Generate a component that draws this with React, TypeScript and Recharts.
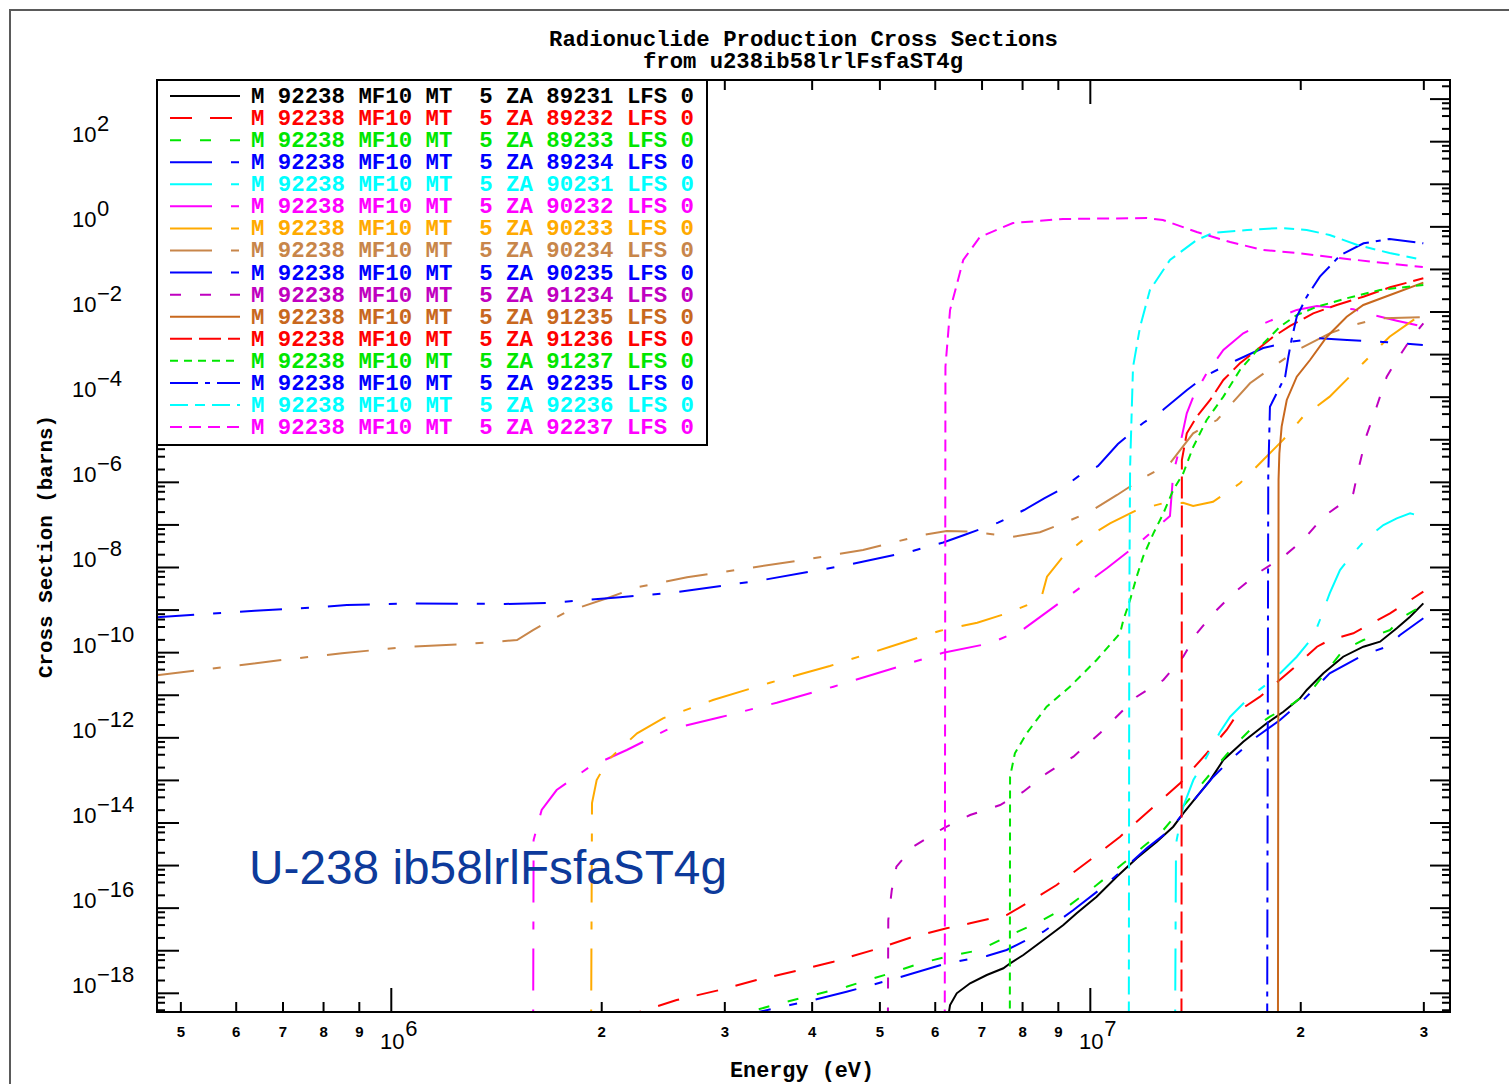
import React from 'react';
import { LineChart, Line, XAxis, YAxis, Legend, ReferenceArea } from 'recharts';

type Pt = [number, number];

// ---- Data: [energy (eV), cross section (barns)] ----
const ZA89231: Pt[] = [[6.2e6,1e-19],[6.3e6,5.3e-19],[6.44e6,1e-18],[6.73e6,1.72e-18],[7.11e6,2.69e-18],[7.51e6,3.87e-18],[7.68e6,5.07e-18],[8.02e6,7.94e-18],[8.57e6,1.79e-17],[9.15e6,4.02e-17],[9.56e6,7.57e-17],[1.021e7,1.86e-16],[1.091e7,5.47e-16],[1.165e7,1.48e-15],[1.245e7,3.63e-15],[1.314e7,8.18e-15],[1.358e7,1.69e-14],[1.42e7,4.14e-14],[1.484e7,1.02e-13],[1.55e7,3.01e-13],[1.655e7,8.11e-13],[1.788e7,2.19e-12],[1.889e7,4.1e-12],[1.995e7,8.47e-12],[2.04e7,1.33e-11],[2.155e7,3.27e-11],[2.3e7,8.03e-11],[2.458e7,1.38e-10],[2.597e7,1.81e-10],[2.744e7,3.73e-10],[2.867e7,7.0e-10],[2.995e7,1.44e-9]];
const ZA89232: Pt[] = [[2.125e6,2.56e-19],[2.27e6,3.7e-19],[2.56e6,6.97e-19],[2.953e6,1.2e-18],[3.33e6,2.05e-18],[3.84e6,3.52e-18],[4.29e6,5.52e-18],[4.89e6,1.04e-17],[5.58e6,2.13e-17],[6.23e6,3.37e-17],[6.73e6,4.41e-17],[7.59e6,6.9e-17],[8.11e6,1.3e-16],[8.95e6,3.49e-16],[9.99e6,1.35e-15],[1.103e7,4.76e-15],[1.217e7,2.02e-14],[1.344e7,8.55e-14],[1.467e7,4.33e-13],[1.567e7,1.53e-12],[1.637e7,4.5e-12],[1.749e7,9.25e-12],[1.952e7,4.3e-11],[2.11e7,1.38e-10],[2.2e7,1.98e-10],[2.378e7,2.85e-10],[2.684e7,8.39e-10],[2.995e7,2.7e-9]];
const ZA89233: Pt[] = [[3.05e6,2.73e-19],[3.26e6,3.7e-19],[3.6e6,5.82e-19],[4.02e6,9.12e-19],[4.48e6,1.43e-18],[5.17e6,2.95e-18],[5.71e6,5.07e-18],[6.23e6,7.24e-18],[6.95e6,1.04e-17],[7.59e6,2.13e-17],[8.47e6,4.81e-17],[9.35e6,1.19e-16],[1.021e7,3.49e-16],[1.115e7,1.13e-15],[1.19e7,2.77e-15],[1.272e7,6.84e-15],[1.344e7,2.02e-14],[1.42e7,5.94e-14],[1.5e7,1.75e-13],[1.602e7,6.18e-13],[1.692e7,1.53e-12],[1.807e7,3.13e-12],[1.952e7,6.47e-12],[2.084e7,1.46e-11],[2.3e7,1.15e-10],[2.458e7,1.98e-10],[2.684e7,3.4e-10],[2.804e7,7.0e-10],[2.995e7,1.31e-9]];
const ZA89234: Pt[] = [[3.05e6,2.49e-19],[3.3e6,3.44e-19],[3.72e6,5.31e-19],[4.02e6,6.97e-19],[4.48e6,1.09e-18],[5.17e6,2.05e-18],[5.58e6,2.95e-18],[6.23e6,5.07e-18],[7.11e6,7.52e-18],[7.59e6,1.04e-17],[8.02e6,1.63e-17],[8.57e6,2.8e-17],[9.46e6,9.04e-17],[1.044e7,3.19e-16],[1.14e7,1.13e-15],[1.204e7,2.54e-15],[1.3e7,6.84e-15],[1.358e7,1.69e-14],[1.42e7,4.14e-14],[1.5e7,1.22e-13],[1.585e7,3.01e-13],[1.73e7,1.06e-12],[1.868e7,2.62e-12],[2.017e7,7.73e-12],[2.2e7,3.27e-11],[2.458e7,8.81e-11],[2.655e7,1.38e-10],[2.774e7,2.6e-10],[2.995e7,6.41e-10]];
const ZA90231: Pt[] = [[1.321e7,1e-20],[1.326e7,2.32e-15],[1.329e7,3.98e-15],[1.358e7,2.41e-14],[1.404e7,1.02e-13],[1.467e7,3.61e-13],[1.533e7,1.37e-12],[1.585e7,3.13e-12],[1.692e7,9.25e-12],[1.848e7,2.72e-11],[1.974e7,8.03e-11],[2.084e7,2.37e-10],[2.13e7,5.85e-10],[2.2e7,2.48e-9],[2.276e7,8.73e-9],[2.378e7,2.15e-8],[2.485e7,4.85e-8],[2.626e7,9.95e-8],[2.744e7,1.43e-7],[2.867e7,1.87e-7],[2.995e7,1.56e-7]];
const ZA90232: Pt[] = [[1.595e6,1e-20],[1.598e6,3.98e-15],[1.641e6,2.02e-14],[1.724e6,5.94e-14],[1.924e6,2.1e-13],[2.172e6,5.18e-13],[2.477e6,1.53e-12],[2.953e6,3.03e-12],[3.56e6,6.68e-12],[4.29e6,1.59e-11],[5.23e6,4.3e-11],[6.16e6,9.98e-11],[7.19e6,1.66e-10],[8.02e6,3.54e-10],[9.15e6,1.73e-9],[1.056e7,9.57e-9],[1.165e7,3.37e-8],[1.3e7,1.62e-7],[1.314e7,1.63e-6],[1.336e7,4.81e-6],[1.374e7,4.18e-5],[1.404e7,1.03e-4],[1.467e7,3.64e-4],[1.55e7,1.28e-3],[1.655e7,3.16e-3],[1.749e7,4.95e-3],[1.868e7,7.76e-3],[1.974e7,0.0112],[2.11e7,0.0138],[2.378e7,0.0116],[2.54e7,8.5e-3],[2.745e7,6.25e-3],[2.995e7,4.52e-3]];
const ZA90233: Pt[] = [[1.93e6,1e-20],[1.937e6,2.94e-14],[1.967e6,1.02e-13],[2.042e6,3.01e-13],[2.247e6,1.28e-12],[2.447e6,2.87e-12],[2.885e6,7.73e-12],[3.48e6,1.97e-11],[4.24e6,4.86e-11],[5.17e6,1.38e-10],[6.1e6,3.28e-10],[6.89e6,5.06e-10],[7.6e6,8.39e-10],[8.12e6,1.31e-9],[8.53e6,2.26e-9],[8.67e6,6.08e-9],[9.14e6,1.8e-8],[9.76e6,4.43e-8],[1.067e7,1.09e-7],[1.166e7,2.24e-7],[1.27e7,3.22e-7],[1.357e7,3.3e-7],[1.403e7,2.78e-7],[1.498e7,3.5e-7],[1.637e7,9.48e-7],[1.767e7,3.35e-6],[1.887e7,9.9e-6],[2.015e7,3.48e-5],[2.2e7,1.03e-4],[2.455e7,6.25e-4],[2.68e7,2.63e-3],[2.99e7,9.33e-3]];
const ZA90234: Pt[] = [[4.55e5,2.85e-11],[5.73e5,4.53e-11],[6.98e5,6.73e-11],[8.5e5,9.66e-11],[1.057e6,1.38e-10],[1.262e6,1.57e-10],[1.513e6,1.98e-10],[1.595e6,3.4e-10],[1.676e6,5.33e-10],[1.784e6,9.16e-10],[2.035e6,1.89e-9],[2.247e6,3.43e-9],[2.649e6,5.89e-9],[3.227e6,9.57e-9],[3.88e6,1.5e-8],[4.73e6,2.58e-8],[5.76e6,5.79e-8],[6.23e6,7.2e-8],[6.73e6,6.93e-8],[7.19e6,6.12e-8],[7.75e6,5.28e-8],[8.47e6,6.71e-8],[9.14e6,1.09e-7],[9.99e6,2.05e-7],[1.092e7,5.05e-7],[1.19e7,1.26e-6],[1.3e7,2.8e-6],[1.403e7,1.42e-5],[1.518e7,2.91e-5],[1.692e7,2.12e-4],[1.826e7,5.2e-4],[1.976e7,1.28e-3],[2.2e7,3.16e-3],[2.376e7,4.95e-3],[2.6e7,7.13e-3],[2.96e7,7.5e-3]];
const ZA90235: Pt[] = [[4.55e5,6.7e-10],[6.38e5,9.66e-10],[7.7e5,1.14e-9],[8.64e5,1.31e-9],[1.057e6,1.44e-9],[1.454e6,1.39e-9],[1.703e6,1.49e-9],[2.125e6,2.0e-9],[2.53e6,2.56e-9],[3.4e6,5.08e-9],[4.49e6,1.146e-8],[5.52e6,2.35e-8],[6.16e6,3.86e-8],[6.6e6,5.79e-8],[7.38e6,1.13e-7],[8.04e6,2.24e-7],[8.59e6,4.22e-7],[9.08e6,6.87e-7],[9.6e6,1.36e-6],[1.026e7,2.42e-6],[1.095e7,7.94e-6],[1.19e7,2.48e-5],[1.27e7,5.0e-5],[1.375e7,1.48e-4],[1.469e7,3.32e-4],[1.621e7,7.46e-4],[1.767e7,1.43e-3],[1.93e7,1.98e-3],[2.11e7,2.45e-3],[2.33e7,2.2e-3],[2.62e7,1.98e-3],[2.99e7,1.68e-3]];
const ZA91234: Pt[] = [[5.13e6,1e-20],[5.14e6,5.26e-17],[5.2e6,2.67e-16],[5.28e6,9.4e-16],[5.58e6,2.77e-15],[6.16e6,7.5e-15],[6.73e6,1.54e-14],[7.43e6,2.64e-14],[8.02e6,5.43e-14],[8.66e6,1.47e-13],[9.46e6,3.61e-13],[1.033e7,1.3e-12],[1.165e7,9.25e-12],[1.272e7,2.28e-11],[1.358e7,8.03e-11],[1.42e7,2.85e-10],[1.5e7,8.39e-10],[1.602e7,2.48e-9],[1.749e7,7.96e-9],[1.889e7,1.8e-8],[2.017e7,4.43e-8],[2.155e7,1.56e-7],[2.327e7,3.85e-7],[2.378e7,5.53e-7],[2.417e7,1.95e-6],[2.485e7,1.29e-5],[2.568e7,5.97e-5],[2.655e7,3.03e-4],[2.744e7,7.46e-4],[2.867e7,2.2e-3],[2.995e7,5.43e-3]];
const ZA91235: Pt[] = [[1.855e7,1e-20],[1.859e7,1.13e-6],[1.864e7,4.81e-6],[1.878e7,2.03e-5],[1.91e7,8.6e-5],[1.974e7,3.03e-4],[2.062e7,7.46e-4],[2.18e7,2.63e-3],[2.327e7,7.76e-3],[2.458e7,0.0146],[2.684e7,0.0251],[2.995e7,0.0489]];
const ZA91236: Pt[] = [[1.35e7,1e-20],[1.352e7,3.35e-6],[1.374e7,1.42e-5],[1.42e7,3.48e-5],[1.484e7,8.6e-5],[1.55e7,2.53e-4],[1.637e7,6.25e-4],[1.73e7,1.28e-3],[1.827e7,2.63e-3],[1.931e7,4.7e-3],[2.084e7,9.33e-3],[2.252e7,0.0146],[2.458e7,0.0229],[2.684e7,0.038],[2.995e7,0.062]];
const ZA91237: Pt[] = [[7.67e6,1e-20],[7.677e6,1.22e-13],[7.8e6,4.33e-13],[8.11e6,1.28e-12],[8.66e6,5.38e-12],[9.35e6,1.59e-11],[1.021e7,6.73e-11],[1.103e7,2.85e-10],[1.115e7,5.85e-10],[1.14e7,1.73e-9],[1.165e7,6.08e-9],[1.19e7,1.8e-8],[1.231e7,6.35e-8],[1.272e7,1.87e-7],[1.314e7,6.6e-7],[1.358e7,1.63e-6],[1.404e7,6.87e-6],[1.467e7,2.91e-5],[1.55e7,1.03e-4],[1.637e7,4.35e-4],[1.749e7,1.53e-3],[1.868e7,4.52e-3],[1.974e7,8.5e-3],[2.11e7,0.0133],[2.327e7,0.021],[2.597e7,0.0329],[2.995e7,0.0432]];
const ZA92235: Pt[] = [[1.79e7,1e-20],[1.797e7,1.36e-6],[1.807e7,5.97e-5],[1.858e7,1.48e-4],[1.9e7,3.03e-4],[1.92e7,8.9e-4],[1.94e7,2.2e-3],[1.974e7,7.8e-3],[2.04e7,0.0229],[2.13e7,0.0676],[2.28e7,0.218],[2.46e7,0.411],[2.68e7,0.519],[2.995e7,0.411]];
const ZA92236: Pt[] = [[1.135e7,1e-20],[1.137e7,1e-9],[1.14e7,2.29e-6],[1.151e7,5.1e-4],[1.178e7,4.45e-3],[1.217e7,0.0329],[1.3e7,0.167],[1.42e7,0.491],[1.498e7,0.718],[1.676e7,0.843],[1.868e7,0.94],[2.04e7,0.843],[2.2e7,0.644],[2.41e7,0.375],[2.68e7,0.243],[2.99e7,0.167]];
const ZA92237: Pt[] = [[6.19e6,1e-20],[6.205e6,5.2e-4],[6.3e6,0.0111],[6.58e6,0.167],[6.95e6,0.578],[7.75e6,1.23],[9.14e6,1.53],[1.205e7,1.61],[1.27e7,1.45],[1.42e7,0.757],[1.585e7,0.44],[1.767e7,0.286],[1.976e7,0.243],[2.33e7,0.176],[2.99e7,0.114]];

const SERIES = [
  { za: '89231', pts: ZA89231, color: '#000000', dash: undefined as string | undefined },
  { za: '89232', pts: ZA89232, color: '#ff0000', dash: '22 18' },
  { za: '89233', pts: ZA89233, color: '#00e600', dash: '11 19' },
  { za: '89234', pts: ZA89234, color: '#0000ff', dash: '42 19 8 19' },
  { za: '90231', pts: ZA90231, color: '#00ffff', dash: '42 19 8 19' },
  { za: '90232', pts: ZA90232, color: '#ff00ff', dash: '42 19 8 19' },
  { za: '90233', pts: ZA90233, color: '#ffaa00', dash: '42 19 8 19' },
  { za: '90234', pts: ZA90234, color: '#c8864a', dash: '42 19 8 19' },
  { za: '90235', pts: ZA90235, color: '#0000ff', dash: '42 19 8 19' },
  { za: '91234', pts: ZA91234, color: '#c000c0', dash: '11 19' },
  { za: '91235', pts: ZA91235, color: '#c8681e', dash: undefined },
  { za: '91236', pts: ZA91236, color: '#ff0000', dash: '22 7' },
  { za: '91237', pts: ZA91237, color: '#00e600', dash: '8 6' },
  { za: '92235', pts: ZA92235, color: '#0000ff', dash: '28 7 5 7' },
  { za: '92236', pts: ZA92236, color: '#00ffff', dash: '18 7 10 7' },
  { za: '92237', pts: ZA92237, color: '#ff00ff', dash: '12 7' },
];

// ---- Axes ----
const X_MIN = 4.622e5;
const X_MAX = 3.27e7;
const Y_MIN = 3.64e-19;
const Y_MAX = 2.81e3;

const X_TICKS = [5e5, 6e5, 7e5, 8e5, 9e5, 1e6, 2e6, 3e6, 4e6, 5e6, 6e6, 7e6, 8e6, 9e6, 1e7, 2e7, 3e7];
const X_TICK_LABELS = ['5', '6', '7', '8', '9', '10^6', '2', '3', '4', '5', '6', '7', '8', '9', '10^7', '2', '3'];
const Y_DECADES = [-19, -18, -17, -16, -15, -14, -13, -12, -11, -10, -9, -8, -7, -6, -5, -4, -3, -2, -1, 0, 1, 2, 3];
const Y_MINOR_MULTS = [2, 4, 6, 8];
const Y_LABEL_EXPONENTS = [2, 0, -2, -4, -6, -8, -10, -12, -14, -16, -18];

const Y_TICKS: number[] = [];
Y_DECADES.forEach((d) => {
  const base = Number(`1e${d}`);
  [1, ...Y_MINOR_MULTS].forEach((m) => {
    const v = m * base;
    if (v >= Y_MIN && v <= Y_MAX) Y_TICKS.push(v);
  });
});

// ---- Layout ----
const W = 1509;
const H = 1084;
const PLOT_L = 157;
const PLOT_T = 80;
const PLOT_R = 1450;
const PLOT_B = 1012;
const AXIS_THICK = 1; // x-axis height / y-axis width (must be > 0 for the axis to render)

const SANS = "'Liberation Sans', Arial, sans-serif";
const MONO = "'Liberation Mono', 'DejaVu Sans Mono', monospace";

const XTick = (props: any) => {
  const { x, payload } = props;
  const v = payload.value;
  const i = X_TICKS.findIndex((t) => Math.abs(t - v) / t < 1e-6);
  const label = i >= 0 ? X_TICK_LABELS[i] : '';
  const major = label.includes('^');
  const len = major ? 24 : 10;
  const [base, exp] = label.split('^');
  return (
    <g>
      <line x1={x} x2={x} y1={PLOT_B} y2={PLOT_B - len} stroke="#000" strokeWidth={2} />
      <line x1={x} x2={x} y1={PLOT_T} y2={PLOT_T + len} stroke="#000" strokeWidth={2} />
      {major ? (
        <g fontFamily={SANS} fontSize={22} fill="#000">
          <text x={x + 1} y={1049} textAnchor="middle">{base}</text>
          <text x={x + 14} y={1036}>{exp}</text>
        </g>
      ) : (
        <text x={x} y={1037} textAnchor="middle" fontFamily={SANS} fontWeight="bold" fontSize={15} fill="#000">
          {label}
        </text>
      )}
    </g>
  );
};

const YTick = (props: any) => {
  const { y, payload } = props;
  const v = payload.value;
  const lg = Math.log10(v);
  const e = Math.round(lg);
  const major = Math.abs(lg - e) < 1e-6;
  const showLabel = major && Y_LABEL_EXPONENTS.includes(e);
  return (
    <g>
      <line x1={PLOT_L} x2={PLOT_L + (major ? 22 : 8)} y1={y} y2={y} stroke="#000" strokeWidth={2} />
      <line x1={PLOT_R} x2={PLOT_R - (major ? 20 : 8)} y1={y} y2={y} stroke="#000" strokeWidth={2} />
      {showLabel && (
        <g fontFamily={SANS} fontSize={22} fill="#000">
          <text x={72} y={y}>10</text>
          <text x={97} y={y - 11}>{e < 0 ? `\u2212${-e}` : `${e}`}</text>
        </g>
      )}
    </g>
  );
};

const LegendBox = () => (
  <svg width={552} height={367} style={{ display: 'block' }}>
    <rect x={1} y={1} width={550} height={365} fill="#fff" stroke="#000" strokeWidth={2} />
    {SERIES.map((s, i) => {
      const cy = 17 + i * 22.07;
      return (
        <g key={s.za}>
          <line x1={14} x2={84} y1={cy} y2={cy} stroke={s.color} strokeWidth={2} strokeDasharray={s.dash} />
          <text
            x={95}
            y={cy + 7}
            fill={s.color}
            fontFamily={MONO}
            fontWeight="bold"
            fontSize={22}
            textLength={443}
            lengthAdjust="spacingAndGlyphs"
            style={{ whiteSpace: 'pre' }}
          >
            {`M 92238 MF10 MT  5 ZA ${s.za} LFS 0`}
          </text>
        </g>
      );
    })}
  </svg>
);

export default function App() {
  return (
    <div style={{ position: 'fixed', left: 0, top: 0, width: W, height: H, overflow: 'hidden', background: '#fff' }}>
      <div
        style={{
          position: 'absolute',
          left: 9,
          top: 9,
          width: W,
          height: H,
          borderTop: '2px solid #5a5a5a',
          borderLeft: '2px solid #5a5a5a',
        }}
      />
      <LineChart
        width={W}
        height={H}
        margin={{ top: PLOT_T, right: W - PLOT_R, bottom: H - PLOT_B - AXIS_THICK, left: PLOT_L - AXIS_THICK }}
      >
        <XAxis
          type="number"
          dataKey="e"
          scale="log"
          domain={[X_MIN, X_MAX]}
          allowDataOverflow
          ticks={X_TICKS}
          interval={0}
          height={AXIS_THICK}
          tickSize={0}
          tickMargin={0}
          tickLine={false}
          tick={(p: any) => <XTick {...p} />}
          axisLine={{ stroke: '#000', strokeWidth: 2 }}
        />
        <YAxis
          type="number"
          scale="log"
          domain={[Y_MIN, Y_MAX]}
          allowDataOverflow
          ticks={Y_TICKS}
          interval={0}
          width={AXIS_THICK}
          tickSize={0}
          tickMargin={0}
          tickLine={false}
          tick={(p: any) => <YTick {...p} />}
          axisLine={{ stroke: '#000', strokeWidth: 2 }}
        />
        <ReferenceArea
          x1={X_MIN}
          x2={X_MAX}
          y1={Y_MIN}
          y2={Y_MAX}
          fill="none"
          fillOpacity={0}
          stroke="#000"
          strokeWidth={2}
          ifOverflow="visible"
        />
        {SERIES.map((s) => (
          <Line
            key={s.za}
            name={s.za}
            data={s.pts.map(([e, v]) => ({ e, v }))}
            dataKey="v"
            type="linear"
            stroke={s.color}
            strokeWidth={2}
            strokeDasharray={s.dash}
            dot={false}
            activeDot={false}
            isAnimationActive={false}
          />
        ))}
        <Legend
          layout="vertical"
          align="center"
          verticalAlign="middle"
          content={() => <LegendBox />}
          wrapperStyle={{ position: 'absolute', left: 156, top: 79, width: 552, height: 367 }}
        />
      </LineChart>
      <svg
        width={W}
        height={H}
        style={{ position: 'absolute', left: 0, top: 0, pointerEvents: 'none' }}
      >
        <text x={549} y={46} fontFamily={MONO} fontWeight="bold" fontSize={22} textLength={509} lengthAdjust="spacingAndGlyphs" fill="#000">
          Radionuclide Production Cross Sections
        </text>
        <text x={643} y={68} fontFamily={MONO} fontWeight="bold" fontSize={22} textLength={320} lengthAdjust="spacingAndGlyphs" fill="#000">
          from u238ib58lrlFsfaST4g
        </text>
        <text x={730} y={1077} fontFamily={MONO} fontWeight="bold" fontSize={22} textLength={144} lengthAdjust="spacingAndGlyphs" fill="#000" style={{ whiteSpace: 'pre' }}>
          Energy (eV)
        </text>
        <text
          transform="translate(52,678) rotate(-90)"
          x={0}
          y={0}
          fontFamily={MONO}
          fontWeight="bold"
          fontSize={21}
          textLength={263}
          lengthAdjust="spacingAndGlyphs"
          fill="#000"
          style={{ whiteSpace: 'pre' }}
        >
          Cross Section (barns)
        </text>
        <text x={249} y={884} fontFamily={SANS} fontSize={48} textLength={478} lengthAdjust="spacingAndGlyphs" fill="#0d3a9b">
          U-238 ib58lrlFsfaST4g
        </text>
      </svg>
    </div>
  );
}
